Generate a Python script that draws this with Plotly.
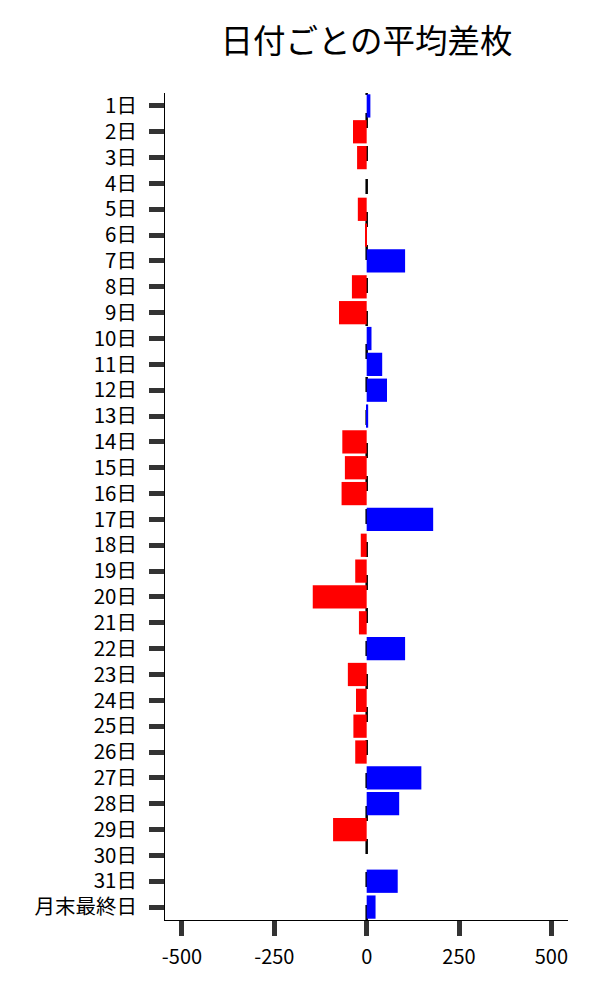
import plotly.graph_objects as go

days = ["1日", "2日", "3日", "4日", "5日", "6日", "7日", "8日", "9日", "10日",
        "11日", "12日", "13日", "14日", "15日", "16日", "17日", "18日", "19日", "20日",
        "21日", "22日", "23日", "24日", "25日", "26日", "27日", "28日", "29日", "30日",
        "31日", "月末最終日"]
avg_diff = [10, -37, -26, 0, -24, -2, 104, -40, -75, 13,
            42, 55, 4, -66, -59, -68, 180, -16, -31, -146,
            -21, 104, -51, -29, -36, -31, 148, 88, -91, 0,
            84, 24]
x_tickvals = [-500, -250, 0, 250, 500]
x_ticktext = ["-500", "-250", "0", "250", "500"]
title_text = "日付ごとの平均差枚"

colors = ["#0000ff" if v > 0 else "#ff0000" for v in avg_diff]

FONT = "Noto Sans CJK JP"
W, H = 592, 992  # page body has an 8px margin

fig = go.Figure()
fig.add_trace(go.Bar(
    x=avg_diff, y=days, orientation="h",
    marker=dict(color=colors, line=dict(width=0)),
    showlegend=False,
))

fig.add_shape(type="line", xref="x", yref="paper", x0=0, x1=0, y0=0, y1=1,
              line=dict(color="black", width=2.5, dash="15px,18px"), layer="below")

fig.update_layout(
    width=W, height=H,
    margin=dict(l=157, r=32, t=85, b=80),
    paper_bgcolor="white", plot_bgcolor="white",
    bargap=0.1,
    font=dict(family=FONT, size=20, color="black"),
    title=dict(text=title_text, x=0.5, xref="paper", xanchor="center",
               y=1 - 34 / H, yref="container", yanchor="middle",
               font=dict(family=FONT, size=32.5, color="black")),
)
fig.update_xaxes(
    range=[-546, 545], tickvals=x_tickvals, ticktext=x_ticktext,
    showgrid=False, zeroline=False,
    showline=True, linecolor="black", linewidth=1,
    ticks="outside", ticklen=15, tickwidth=5, tickcolor="#333333",
    tickfont=dict(family=FONT, size=20, color="black"),
    ticklabelstandoff=4,
)
fig.update_yaxes(
    type="category", categoryorder="array", categoryarray=days,
    range=[31.5, -0.5],
    showgrid=False, zeroline=False,
    showline=True, linecolor="black", linewidth=1,
    ticks="outside", ticklen=15, tickwidth=5, tickcolor="#333333",
    tickfont=dict(family=FONT, size=20.5, color="black"),
    ticklabelstandoff=8,
)

fig.write_html("out.html")
